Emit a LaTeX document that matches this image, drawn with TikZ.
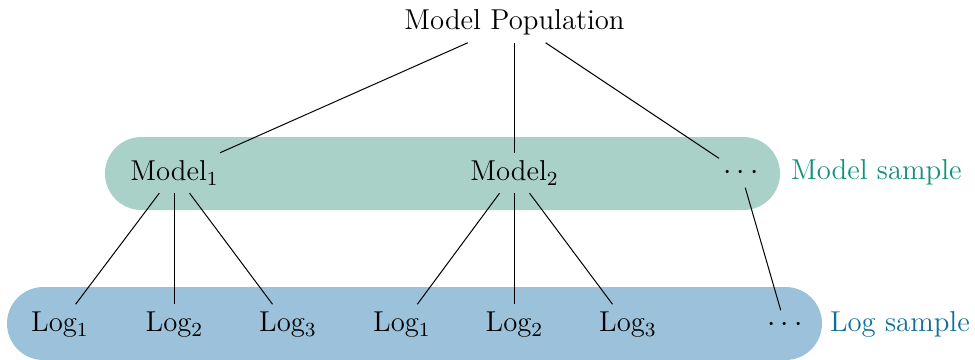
\documentclass[tikz,border=0pt]{standalone}
\definecolor{modelband}{HTML}{A9D1C8}
\definecolor{modeltext}{HTML}{13917A}
\definecolor{logband}{HTML}{9BC2DA}
\definecolor{logtext}{HTML}{11709A}
\tikzset{
  px/.style={x=0.4pt,y=-0.4pt},
  item/.style={inner sep=3pt, font=\fontsize{11.5}{14}\selectfont},
  band/.style={rounded corners=14.6pt, minimum height=29.2pt, inner sep=0pt},
  edge/.style={draw=black, line width=0.4pt},
}
\begin{document}
\begin{tikzpicture}[px]
  \useasboundingbox (0,0) rectangle (975,360);
  % sample bands
  \node[band, fill=modelband, minimum width=270pt] (modelband) at (442.5,173.5) {};
  \node[band, fill=logband, minimum width=326pt] (logband) at (414.5,323.5) {};
  % band labels
  \node[item, text=modeltext, anchor=west] (mlabel) at (783,172) {Model sample};
  \node[item, text=logtext, anchor=west] (llabel) at (822,324) {Log sample};
  % nodes
  \node[item] (pop) at (514.5,22) {Model Population};
  \node[item] (m1) at (174.5,173) {Model$_1$};
  \node[item] (m2) at (514.5,173) {Model$_2$};
  \node[item] (md) at (741,173) {$\cdots$};
  \node[item] (l11) at (60,325) {Log$_1$};
  \node[item] (l12) at (174.5,325) {Log$_2$};
  \node[item] (l13) at (288,325) {Log$_3$};
  \node[item] (l21) at (402,325) {Log$_1$};
  \node[item] (l22) at (514.5,325) {Log$_2$};
  \node[item] (l23) at (628,325) {Log$_3$};
  \node[item] (ld) at (785,325) {$\cdots$};
  % connectors
  \draw[edge] (pop) -- (m1);
  \draw[edge] (pop) -- (m2);
  \draw[edge] (pop) -- (md);
  \draw[edge] (m1) -- (l11);
  \draw[edge] (m1) -- (l12);
  \draw[edge] (m1) -- (l13);
  \draw[edge] (m2) -- (l21);
  \draw[edge] (m2) -- (l22);
  \draw[edge] (m2) -- (l23);
  \draw[edge] (md) -- (ld);
\end{tikzpicture}
\end{document}
